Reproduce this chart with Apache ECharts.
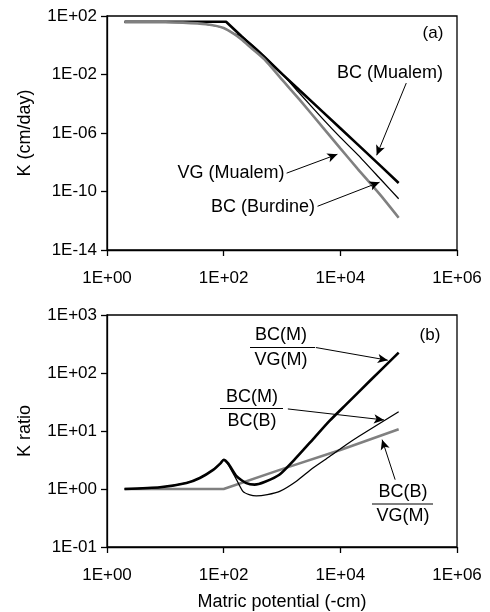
<!DOCTYPE html>
<html>
<head>
<meta charset="utf-8">
<title>K curves</title>
<script src="https://cdn.jsdelivr.net/npm/echarts@6.0.0/dist/echarts.min.js"></script>
<style>
body{margin:0;padding:0;background:#fff;}
#chart{width:490px;height:612px;}
</style>
</head>
<body>
<div id="chart"></div>
<script>
// panel (a) - K (cm/day) vs matric potential (-cm)
var bcmX = [2, 10, 50, 110, 200, 500, 1000, 2000, 5000, 1e4, 2e4, 5e4, 1e5];
var bcmK = [40, 40, 40, 40, 4.3, 0.145, 1.1e-2, 8.3e-4, 2.8e-5, 2.1e-6, 1.6e-7, 5.2e-9, 3.8e-10];

var vgmX = [2, 5, 10, 20, 50, 100, 150, 200, 300, 500, 1000, 2000, 5000, 1e4, 2e4, 5e4, 1e5];
var vgmK = [38, 38, 37.5, 35, 27, 15.1, 6.0, 2.6, 0.63, 0.107, 4.4e-3, 1.9e-4, 2.4e-6, 8.9e-8, 3.4e-9, 5.0e-11, 1.6e-12];

var bcbX = [2, 5, 10, 20, 50, 100, 150, 200, 300, 500, 1000, 2000, 5000, 1e4, 2e4, 5e4, 1e5];
var bcbK = [38, 38, 37.5, 35, 27, 15.1, 6.3, 4.1, 1.17, 0.186, 1.17e-2, 5.2e-4, 9.3e-6, 5.0e-7, 3.2e-8, 6.3e-10, 3.2e-11];

// panel (b) - K ratios
var r1X = [2, 8.1, 23, 39, 66, 89, 100, 120, 166, 245, 339, 500, 912, 1740, 3390, 6460, 12600, 31600, 1e5];
var r1Y = [1.0, 1.07, 1.27, 1.55, 2.14, 2.8, 3.2, 2.75, 1.66, 1.26, 1.19, 1.32, 1.78, 3.43, 7.2, 14.8, 28.8, 72, 224];   // BC(M)/VG(M)

var r2X = [2, 8.1, 23, 39, 66, 89, 100, 120, 166, 214, 282, 363, 562, 912, 1740, 3390, 6460, 12600, 20900, 1e5];
var r2Y = [1.0, 1.07, 1.27, 1.55, 2.14, 2.8, 3.2, 2.6, 1.45, 0.91, 0.79, 0.76, 0.80, 0.91, 1.35, 2.3, 3.6, 5.8, 8.1, 21.5];  // BC(M)/BC(B)

var r3X = [2, 100, 1000, 1e4, 1e5];
var r3Y = [1, 1, 2.2, 4.7, 10.7];   // BC(B)/VG(M)

// ticks
var yTicksA = [1e-14, 1e-10, 1e-6, 1e-2, 1e2];

// annotation arrows [x0, y0, x1, y1] (data units)
var arrowsA = [[1.35e5, 2.6e-3, 4.2e4, 3.0e-8], [1200, 1.8e-9, 8900, 3.5e-8], [4070, 9.8e-12, 4.7e4, 4.3e-10]];
var arrowsB = [[3800, 275, 6.5e4, 166], [1260, 24, 5.6e4, 15.5], [8.7e4, 1.45, 5.2e4, 7.1]];

function pairs(xs, ys){ return xs.map(function(x,i){ return [x, ys[i]]; }); }
function sci(v){
	var e = Math.round(Math.log10(v));
	return '1E' + (e < 0 ? '-' : '+') + String(Math.abs(e)).padStart(2, '0');
}
function arrows(list){
	return {
		silent:true, symbol:['none','arrow'], symbolSize:[7,10],
		label:{show:false}, emphasis:{disabled:true},
		lineStyle:{color:'#000', width:1, type:'solid'},
		data:list.map(function(a){ return [{coord:[a[0],a[1]]},{coord:[a[2],a[3]]}]; })
	};
}

var FONT = '"Liberation Sans", Arial, sans-serif';
var tickStyle = {show:true, inside:false, length:6, lineStyle:{color:'#000', width:1.3}};
function ax(extra){
	var o = {
		type:'log', logBase:10,
		axisLine:{show:true, lineStyle:{color:'#000', width:1.3}},
		axisTick:tickStyle,
		axisLabel:{color:'#000', fontSize:17, fontFamily:FONT, formatter:sci},
		splitLine:{show:false}, minorTick:{show:false}
	};
	for (var k in extra) {
		if (k === 'axisLabel' || k === 'axisTick') o[k] = Object.assign({}, o[k], extra[k]);
		else o[k] = extra[k];
	}
	return o;
}
var nameStyle = {color:'#000', fontSize:18, fontFamily:FONT};

var myChart = echarts.init(document.getElementById('chart'));
myChart.setOption({
	animation:false,
	grid:[
		{left:107, top:16, width:350, height:234, show:true, borderColor:'#000', borderWidth:1.3},
		{left:107, top:315, width:350, height:233, show:true, borderColor:'#000', borderWidth:1.3}
	],
	xAxis:[
		ax({gridIndex:0, min:1, max:1e6, interval:2, axisLabel:{margin:20}}),
		ax({gridIndex:1, min:1, max:1e6, interval:2, axisLabel:{margin:20},
			name:'Matric potential (-cm)', nameLocation:'middle', nameGap:46, nameTextStyle:nameStyle})
	],
	yAxis:[
		ax({gridIndex:0, min:1e-14, max:1e2, interval:2,
			axisTick:{customValues:yTicksA},
			axisLabel:{margin:10, customValues:yTicksA},
			name:'K (cm/day)', nameLocation:'middle', nameGap:73, nameTextStyle:nameStyle}),
		ax({gridIndex:1, min:1e-1, max:1e3, interval:1, axisLabel:{margin:10},
			name:'K ratio', nameLocation:'middle', nameGap:73, nameTextStyle:nameStyle})
	],
	series:[
		{name:'BC (Burdine)', type:'line', xAxisIndex:0, yAxisIndex:0, data:pairs(bcbX, bcbK),
			showSymbol:false, smooth:0.2, lineStyle:{color:'#000', width:1.3}, z:2},
		{name:'BC (Mualem)', type:'line', xAxisIndex:0, yAxisIndex:0, data:pairs(bcmX, bcmK),
			showSymbol:false, lineStyle:{color:'#000', width:2.6}, z:3},
		{name:'VG (Mualem)', type:'line', xAxisIndex:0, yAxisIndex:0, data:pairs(vgmX, vgmK),
			showSymbol:false, smooth:0.2, lineStyle:{color:'#808080', width:2.6}, z:4, markLine:arrows(arrowsA)},

		{name:'BC(B)/VG(M)', type:'line', xAxisIndex:1, yAxisIndex:1, data:pairs(r3X, r3Y),
			showSymbol:false, lineStyle:{color:'#808080', width:2.6}, z:2, markLine:arrows(arrowsB)},
		{name:'BC(M)/BC(B)', type:'line', xAxisIndex:1, yAxisIndex:1, data:pairs(r2X, r2Y),
			showSymbol:false, smooth:0.2, lineStyle:{color:'#000', width:1.3}, z:3},
		{name:'BC(M)/VG(M)', type:'line', xAxisIndex:1, yAxisIndex:1, data:pairs(r1X, r1Y),
			showSymbol:false, smooth:0.2, lineStyle:{color:'#000', width:2.6}, z:4}
	],
	graphic:[
		{type:'text', x:433, y:33, style:{text:'(a)', fontSize:17, fontFamily:FONT, fill:'#000', align:'center', verticalAlign:'middle'}},
		{type:'text', x:390, y:73, style:{text:'BC (Mualem)', fontSize:18, fontFamily:FONT, fill:'#000', align:'center', verticalAlign:'middle'}},
		{type:'text', x:231, y:173, style:{text:'VG (Mualem)', fontSize:18, fontFamily:FONT, fill:'#000', align:'center', verticalAlign:'middle'}},
		{type:'text', x:263, y:207, style:{text:'BC (Burdine)', fontSize:18, fontFamily:FONT, fill:'#000', align:'center', verticalAlign:'middle'}},

		{type:'text', x:430, y:335, style:{text:'(b)', fontSize:17, fontFamily:FONT, fill:'#000', align:'center', verticalAlign:'middle'}},
		{type:'text', x:281, y:335, style:{text:'BC(M)', fontSize:18, fontFamily:FONT, fill:'#000', align:'center', verticalAlign:'middle'}},
		{type:'line', shape:{x1:250, y1:347.5, x2:315, y2:347.5}, style:{stroke:'#000', lineWidth:1.2}},
		{type:'text', x:281, y:360, style:{text:'VG(M)', fontSize:18, fontFamily:FONT, fill:'#000', align:'center', verticalAlign:'middle'}},
		{type:'text', x:252, y:397, style:{text:'BC(M)', fontSize:18, fontFamily:FONT, fill:'#000', align:'center', verticalAlign:'middle'}},
		{type:'line', shape:{x1:220, y1:408.5, x2:283, y2:408.5}, style:{stroke:'#000', lineWidth:1.2}},
		{type:'text', x:252, y:421, style:{text:'BC(B)', fontSize:18, fontFamily:FONT, fill:'#000', align:'center', verticalAlign:'middle'}},
		{type:'text', x:403, y:492, style:{text:'BC(B)', fontSize:18, fontFamily:FONT, fill:'#000', align:'center', verticalAlign:'middle'}},
		{type:'line', shape:{x1:372, y1:504, x2:433, y2:504}, style:{stroke:'#000', lineWidth:1.2}},
		{type:'text', x:403, y:516, style:{text:'VG(M)', fontSize:18, fontFamily:FONT, fill:'#000', align:'center', verticalAlign:'middle'}}
	]
});
</script>
</body>
</html>
